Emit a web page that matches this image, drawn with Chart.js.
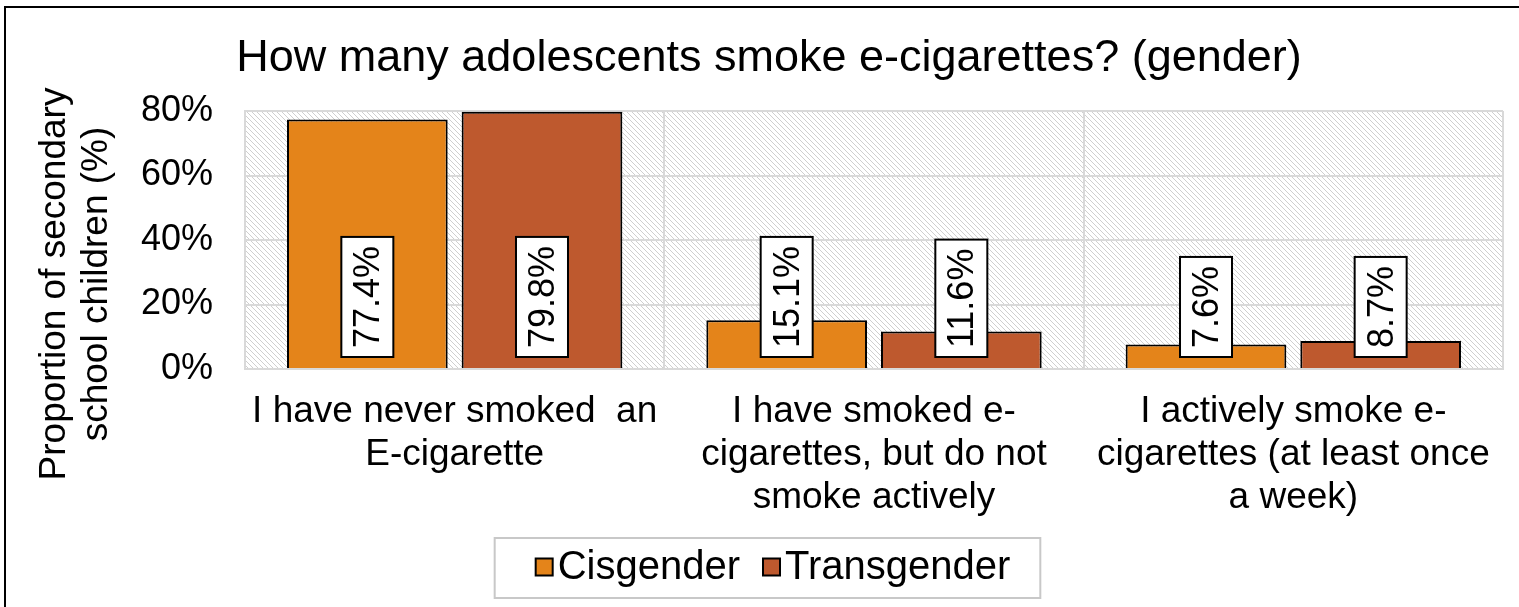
<!DOCTYPE html>
<html>
<head>
<meta charset="utf-8">
<script src="https://cdn.jsdelivr.net/npm/chart.js@4/dist/chart.umd.min.js"></script>
<style>
body { margin: 0; background: #fff; }
#wrap { width: 1519px; height: 607px; position: relative; }
</style>
</head>
<body>
<div id="wrap"><canvas id="myChart"></canvas></div>
<script>
const categories = [
	['I have never smoked  an', 'E-cigarette'],
	['I have smoked e-', 'cigarettes, but do not', 'smoke actively'],
	['I actively smoke e-', 'cigarettes (at least once', 'a week)']
];
const cisgender = [77.4, 15.1, 7.6];
const transgender = [79.8, 11.6, 8.7];
const yTicks = [0, 20, 40, 60, 80];
const seriesNames = ['Cisgender', 'Transgender'];
const titleText = 'How many adolescents smoke e-cigarettes? (gender)';
const yTitle = ['Proportion of secondary', 'school children (%)'];

const FONT = "'Liberation Sans', Arial, sans-serif";
Chart.defaults.font.family = FONT;
Chart.defaults.color = '#000';

// hatched plot background
const hatchPlugin = {
	id: 'hatch',
	beforeDraw(chart) {
		const c = document.createElement('canvas');
		c.width = 10; c.height = 10;
		const g = c.getContext('2d');
		g.fillStyle = '#fff';
		g.fillRect(0, 0, 10, 10);
		g.fillStyle = '#cfcfcf';
		for (let i = 0; i < 10; i++) {
			g.fillRect(i, i, 1, 1);
			g.fillRect((i + 5) % 10, i, 1, 1);
		}
		const ctx = chart.ctx;
		const a = chart.chartArea;
		ctx.save();
		ctx.fillStyle = ctx.createPattern(c, 'repeat');
		ctx.fillRect(a.left, a.top, a.right - a.left, a.bottom - a.top);
		ctx.restore();
	}
};

// rotated value boxes
const labelPlugin = {
	id: 'barLabels',
	afterDatasetsDraw(chart) {
		const ctx = chart.ctx;
		ctx.save();
		ctx.font = '36px ' + FONT;
		chart.data.datasets.forEach((ds, i) => {
			chart.getDatasetMeta(i).data.forEach((bar, j) => {
				const txt = ds.data[j].toFixed(1) + '%';
				const h = ctx.measureText(txt).width + 18;
				const w = 52;
				const bottom = bar.base - 11;
				ctx.fillStyle = '#fff';
				ctx.fillRect(bar.x - w / 2, bottom - h, w, h);
				ctx.lineWidth = 2;
				ctx.strokeStyle = '#000';
				ctx.strokeRect(bar.x - w / 2, bottom - h, w, h);
				ctx.save();
				ctx.translate(bar.x, bottom - h / 2);
				ctx.rotate(-Math.PI / 2);
				ctx.fillStyle = '#000';
				ctx.textAlign = 'center';
				ctx.textBaseline = 'middle';
				ctx.fillText(txt, 0, 2);
				ctx.restore();
			});
		});
		ctx.restore();
	}
};

// y title, legend, outer frame
const extrasPlugin = {
	id: 'extras',
	afterDraw(chart) {
		const ctx = chart.ctx;
		ctx.save();
		ctx.font = '37px ' + FONT;
		ctx.fillStyle = '#000';
		ctx.textAlign = 'center';
		ctx.textBaseline = 'middle';
		yTitle.forEach((t, k) => {
			ctx.save();
			ctx.translate(55 + k * 42, 284);
			ctx.rotate(-Math.PI / 2);
			ctx.fillText(t, 0, 0);
			ctx.restore();
		});

		// legend
		ctx.font = '40px ' + FONT;
		const items = chart.data.datasets.map(ds => ({
			text: ds.label, color: ds.backgroundColor, w: ctx.measureText(ds.label).width
		}));
		const sq = 17, gap = 5, itemGap = 23;
		let total = 0;
		items.forEach((it, k) => { total += sq + gap + it.w + (k ? itemGap : 0); });
		const cx = 773, cy = 567;
		let x = cx - total / 2;
		const start = x;
		ctx.textAlign = 'left';
		items.forEach((it, k) => {
			if (k) x += itemGap;
			ctx.fillStyle = it.color;
			ctx.fillRect(x, cy - sq / 2, sq, sq);
			ctx.lineWidth = 2;
			ctx.strokeStyle = '#000';
			ctx.strokeRect(x, cy - sq / 2, sq, sq);
			ctx.fillStyle = '#000';
			ctx.fillText(it.text, x + sq + gap, cy + 1);
			x += sq + gap + it.w;
		});
		ctx.strokeStyle = '#c8c8c8';
		ctx.lineWidth = 2;
		ctx.strokeRect(start - 41, cy - 29, x - start + 71, 60);

		ctx.strokeStyle = '#000';
		ctx.lineWidth = 2;
		ctx.beginPath();
		ctx.moveTo(5, 607);
		ctx.lineTo(5, 7);
		ctx.lineTo(1519, 7);
		ctx.stroke();
		ctx.restore();
	}
};

const ctx = document.getElementById('myChart').getContext('2d');
const myChart = new Chart(ctx, {
	type: 'bar',
	data: {
		labels: categories,
		datasets: [{
			label: seriesNames[0],
			data: cisgender,
			backgroundColor: '#E4841A',
			borderColor: '#000',
			borderWidth: 2
		}, {
			label: seriesNames[1],
			data: transgender,
			backgroundColor: '#BE592E',
			borderColor: '#000',
			borderWidth: 2
		}]
	},
	options: {
		responsive: true,
		maintainAspectRatio: false,
		animation: false,
		categoryPercentage: 0.833,
		barPercentage: 0.92,
		layout: { padding: { left: 35, right: 16, top: 0, bottom: 68 } },
		plugins: {
			title: {
				display: true,
				text: titleText,
				font: { size: 45, weight: 'normal' },
				padding: { top: 32, bottom: 25 }
			},
			legend: { display: false },
			tooltip: { enabled: false }
		},
		scales: {
			x: {
				grid: { color: '#d9d9d9', lineWidth: 2, drawTicks: false },
				border: { color: '#d9d9d9', width: 2 },
				ticks: {
					font: { size: 37, lineHeight: 1.15 },
					padding: 22,
					maxRotation: 0,
					minRotation: 0,
					autoSkip: false
				},
				afterFit(scale) {
					scale.height = 170;
					scale.paddingLeft = 0;
					scale.paddingRight = 0;
				}
			},
			y: {
				min: 0,
				max: 80,
				grid: { color: '#d9d9d9', lineWidth: 2, drawTicks: false },
				border: { color: '#d9d9d9', width: 2 },
				ticks: {
					font: { size: 36 },
					padding: 32,
					callback: v => v + '%'
				},
				afterBuildTicks(scale) {
					scale.ticks = yTicks.map(v => ({ value: v }));
				},
				afterFit(scale) {
					scale.width = 210;
					scale.paddingTop = 0;
					scale.paddingBottom = 0;
				}
			}
		}
	},
	plugins: [hatchPlugin, labelPlugin, extrasPlugin]
});
</script>
</body>
</html>
